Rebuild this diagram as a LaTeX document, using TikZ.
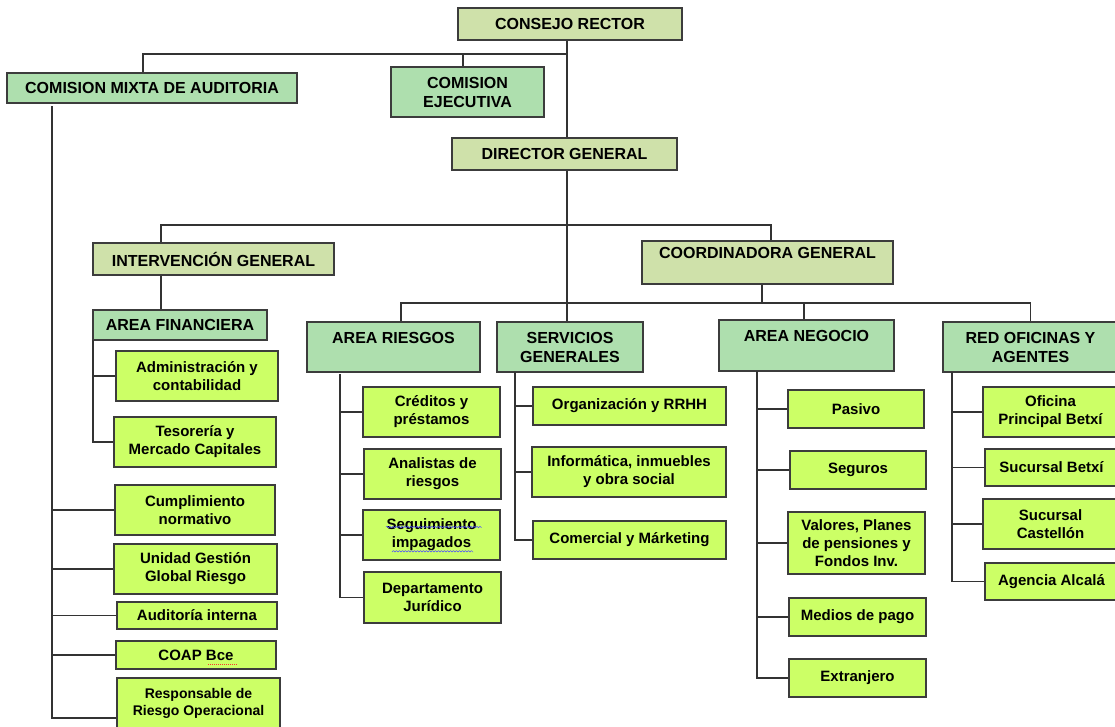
\documentclass[tikz,border=0pt]{standalone}
\usepackage{fontspec}
\setmainfont{Liberation Sans}
\usetikzlibrary{decorations.pathmorphing}

\definecolor{olivebox}{HTML}{CFE1AA}
\definecolor{mintbox}{HTML}{AEDFAE}
\definecolor{limebox}{HTML}{CCFF66}
\definecolor{edgecol}{HTML}{3C3C3C}
\definecolor{linkcol}{HTML}{333333}

\tikzset{
  orgbox/.style={draw=edgecol, line width=1.4pt, align=center, inner sep=0pt,
    font=\fontsize{16}{19}\selectfont\bfseries},
  headbox/.style={orgbox, fill=olivebox},
  areabox/.style={orgbox, fill=mintbox},
  leafbox/.style={orgbox, fill=limebox, font=\fontsize{15}{18}\selectfont\bfseries},
  link/.style={draw=linkcol, line width=1.2pt},
}

\begin{document}
\begin{tikzpicture}[x=1pt,y=-1pt]
  \useasboundingbox[fill=white] (0,0) rectangle (1115,726);

  % top of the chart
  \node[headbox, minimum width=224pt, minimum height=32pt] (cr) at (570,24) {CONSEJO RECTOR};
  \node[areabox, minimum width=290pt, minimum height=30pt] (cmix) at (152,88) {COMISION MIXTA DE AUDITORIA};
  \node[areabox, minimum width=153pt, minimum height=50pt] (cej) at (467.5,92) {COMISION\\EJECUTIVA};
  \node[headbox, minimum width=225pt, minimum height=32pt] (dg) at (564.5,154) {DIRECTOR GENERAL};
  \node[headbox, minimum width=241pt, minimum height=32pt] (ig) at (213.5,259) {INTERVENCIÓN GENERAL};
  \node[headbox, minimum width=251pt, minimum height=43pt] (cg) at (767.5,262.5) {COORDINADORA GENERAL\\\mbox{}};

  % areas
  \node[areabox, minimum width=174pt, minimum height=30pt] (afin) at (180,325) {AREA FINANCIERA};
  \node[areabox, minimum width=173pt, minimum height=50pt] (ar) at (393.5,347) {AREA RIESGOS\\\mbox{}};
  \node[areabox, minimum width=146pt, minimum height=50pt] (sg) at (570,347) {SERVICIOS\\GENERALES};
  \node[areabox, minimum width=175pt, minimum height=51pt] (an) at (806.5,345.5) {AREA NEGOCIO\\\mbox{}};
  \node[areabox, minimum width=175pt, minimum height=50pt] (red) at (1030.5,347) {RED OFICINAS Y\\AGENTES};

  % comision mixta / area financiera
  \node[leafbox, minimum width=162pt, minimum height=50pt] (adm) at (197,376) {Administración y\\contabilidad};
  \node[leafbox, minimum width=162pt, minimum height=50pt] (tes) at (195,442) {Tesorería y\\Mercado Capitales};
  \node[leafbox, minimum width=160pt, minimum height=50pt] (cump) at (195,510) {Cumplimiento\\normativo};
  \node[leafbox, minimum width=163pt, minimum height=50pt] (ugr) at (195.5,569) {Unidad Gestión\\Global Riesgo};
  \node[leafbox, minimum width=160pt, minimum height=27pt] (aud) at (197,615.5) {Auditoría interna};
  \node[leafbox, minimum width=160pt, minimum height=28pt] (coap) at (196,655) {COAP Bce};
  \node[leafbox, minimum width=163pt, minimum height=50pt,
    font=\fontsize{14}{17}\selectfont\bfseries] (resp) at (198.5,703) {Responsable de\\Riesgo Operacional};

  % area riesgos
  \node[leafbox, minimum width=137pt, minimum height=50pt] (cred) at (431.5,412) {Créditos y\\préstamos};
  \node[leafbox, minimum width=137pt, minimum height=50pt] (anal) at (432.5,474) {Analistas de\\riesgos};
  \node[leafbox, minimum width=137pt, minimum height=50pt] (seg) at (431.5,535) {Seguimiento\\impagados};
  \node[leafbox, minimum width=137pt, minimum height=51pt] (dep) at (432.5,597.5) {Departamento\\Jurídico};

  % servicios generales
  \node[leafbox, minimum width=193pt, minimum height=38pt] (org) at (629.5,406) {Organización y RRHH};
  \node[leafbox, minimum width=194pt, minimum height=50pt] (inf) at (629,472) {Informática, inmuebles\\y obra social};
  \node[leafbox, minimum width=193pt, minimum height=38pt] (com) at (629.5,540) {Comercial y Márketing};

  % area negocio
  \node[leafbox, minimum width=136pt, minimum height=38pt] (pas) at (856,409) {Pasivo};
  \node[leafbox, minimum width=136pt, minimum height=38pt] (segu) at (858,470) {Seguros};
  \node[leafbox, minimum width=137pt, minimum height=62pt] (val) at (856.5,543) {Valores, Planes\\de pensiones y\\Fondos Inv.};
  \node[leafbox, minimum width=137pt, minimum height=38pt] (med) at (857.5,617) {Medios de pago};
  \node[leafbox, minimum width=137pt, minimum height=38pt] (ext) at (857.5,678) {Extranjero};

  % red oficinas
  \node[leafbox, minimum width=135pt, minimum height=50pt] (ofi) at (1050.5,412) {Oficina\\Principal Betxí};
  \node[leafbox, minimum width=133pt, minimum height=37pt] (sbet) at (1051.5,467.5) {Sucursal Betxí};
  \node[leafbox, minimum width=135pt, minimum height=50pt] (scas) at (1050.5,524) {Sucursal\\Castellón};
  \node[leafbox, minimum width=133pt, minimum height=37pt] (alc) at (1051.5,581.5) {Agencia Alcalá};

  % junctions and trunks
  \coordinate (tCR) at (567,54);
  \coordinate (tDG) at (567,225);
  \coordinate (tCG) at (762,303);
  \coordinate (tMix) at (52,106);
  \coordinate (tFin) at (93,340);
  \coordinate (tRie) at (340,374);
  \coordinate (tSer) at (515,372);
  \coordinate (tNeg) at (757,371);
  \coordinate (tRed) at (952,372);

  \draw[link] (cr.south -| tCR) -- (dg.north -| tCR);
  \draw[link] ([xshift=-9pt]cmix.north) |- (tCR);
  \draw[link] ([xshift=-4.5pt]cej.north) -- ([xshift=-4.5pt]cej.north |- tCR);
  \draw[link] (dg.south -| tDG) -- (sg.north -| tDG);
  \draw[link] ([xshift=-52.5pt]ig.north) |- (tDG) -| ([xshift=3.5pt]cg.north);
  \draw[link] ([xshift=-52.5pt]ig.south) -- ([xshift=-19pt]afin.north);
  \draw[link] ([xshift=-5.5pt]cg.south) -- (tCG);
  \draw[link] ([xshift=7.5pt]ar.north) |- (tCG) -| (red.north);
  \draw[link] ([xshift=-2.5pt]an.north) -- ([xshift=-2.5pt]an.north |- tCG);

  \draw[link] (tMix) |- ([yshift=-15pt]resp.west);
  \foreach \n in {cump,ugr,aud,coap}
    \draw[link] (\n.west) -- (\n.west -| tMix);
  \draw[link] (tFin) |- (tes.west);
  \draw[link] (adm.west) -- (adm.west -| tFin);
  \draw[link] (tRie) |- (dep.west);
  \foreach \n in {cred,anal,seg}
    \draw[link] (\n.west) -- (\n.west -| tRie);
  \draw[link] (tSer) |- (com.west);
  \foreach \n in {org,inf}
    \draw[link] (\n.west) -- (\n.west -| tSer);
  \draw[link] (tNeg) |- (ext.west);
  \foreach \n in {pas,segu,val,med}
    \draw[link] (\n.west) -- (\n.west -| tNeg);
  \draw[link] (tRed) |- (alc.west);
  \foreach \n in {ofi,sbet,scas}
    \draw[link] (\n.west) -- (\n.west -| tRed);

  % spell check marks
  \draw[blue!70, line width=0.5pt, decorate, decoration={snake, amplitude=0.7pt, segment length=3pt}]
    (386,527) -- (481,527) (392,552) -- (473,552);
  \draw[red!80, line width=0.6pt, dash pattern=on 1pt off 1pt] (208,664) -- (237,664);
\end{tikzpicture}
\end{document}
